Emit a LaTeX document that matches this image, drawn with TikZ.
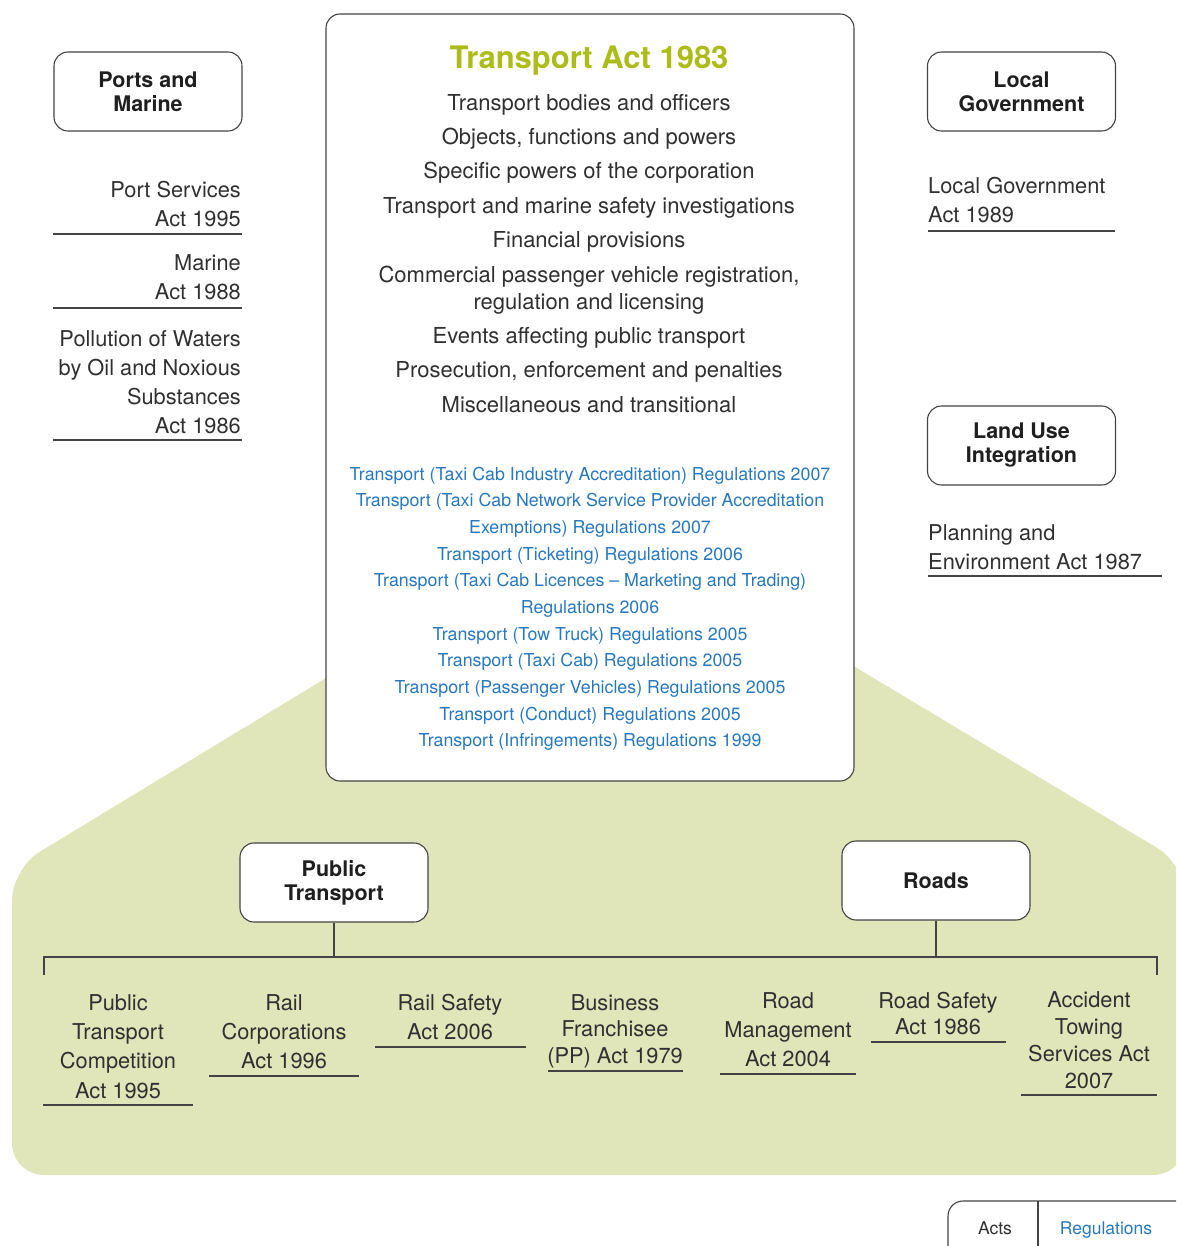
\documentclass[tikz,border=0pt]{standalone}
\usepackage{fontspec}
\setmainfont{TeX Gyre Heros}
\definecolor{gfill}{RGB}{225,229,186}
\definecolor{tgreen}{RGB}{172,188,24}
\definecolor{regblue}{RGB}{40,120,192}
\definecolor{txt}{RGB}{48,48,48}
\definecolor{edge}{RGB}{68,68,68}
\begin{document}
\begin{tikzpicture}[x=1pt,y=-1pt,
  cat/.style={draw=edge, line width=1.1pt, rounded corners=14pt, fill=white,
    minimum width=188pt, minimum height=79pt, inner sep=0pt, align=center,
    font=\fontsize{21.5}{24}\selectfont\bfseries, text=black!88},
  act/.style={font=\fontsize{21.8}{29}\selectfont, text=txt, inner sep=0pt, anchor=base},
  item/.style={font=\fontsize{22}{27}\selectfont, text=txt, inner sep=0pt, anchor=base, align=center},
  reg/.style={font=\fontsize{17.8}{27}\selectfont, text=regblue, inner sep=0pt, anchor=base, align=center},
  uline/.style={draw=edge, line width=1.2pt},
  link/.style={draw=edge, line width=1.2pt}]
\useasboundingbox (0,0) rectangle (1176,1246);
\begin{scope}
  \clip (0,0) rectangle (1176,1246);
  \fill[gfill, rounded corners=32pt] (420,621) -- (12,868.6) -- (12,1175) -- (1185,1175) -- (1185,864.6) -- (760,610) -- cycle;
  \draw[draw=edge, line width=1.1pt, rounded corners=15pt, fill=white] (948,1201) rectangle (1200,1270);
  \draw[draw=edge, line width=1.1pt] (1038,1201) -- (1038,1246);
\end{scope}
\node[font=\fontsize{17.5}{20}\selectfont, text=txt, inner sep=0pt, anchor=base] (legActs) at (995,1234) {Acts};
\node[font=\fontsize{17.5}{20}\selectfont, text=regblue, inner sep=0pt, anchor=base] (legRegs) at (1106,1234) {Regulations};

% central box
\node[draw=edge, line width=1.1pt, rounded corners=14pt, fill=white,
  minimum width=528pt, minimum height=767pt, inner sep=0pt] (main) at (590,397.5) {};
\node[font=\fontsize{31}{34}\selectfont\bfseries, text=tgreen, inner sep=0pt, anchor=base] (title) at (589,69) {Transport Act 1983};
\node[item] (i1) at (589,111) {Transport bodies and officers};
\node[item] (i2) at (589,145) {Objects, functions and powers};
\node[item] (i3) at (589,179) {Specific powers of the corporation};
\node[item] (i4) at (589,214) {Transport and marine safety investigations};
\node[item] (i5) at (589,248) {Financial provisions};
\node[item] (i6) at (589,309) {Commercial passenger vehicle registration,\\regulation and licensing};
\node[item] (i7) at (589,343) {Events affecting public transport};
\node[item] (i8) at (589,377) {Prosecution, enforcement and penalties};
\node[item] (i9) at (589,412) {Miscellaneous and transitional};

\node[reg] (r1) at (590,480) {Transport (Taxi Cab Industry Accreditation) Regulations 2007};
\node[reg] (r2) at (590,533) {Transport (Taxi Cab Network Service Provider Accreditation\\Exemptions) Regulations 2007};
\node[reg] (r3) at (590,560) {Transport (Ticketing) Regulations 2006};
\node[reg] (r4) at (590,613) {Transport (Taxi Cab Licences -- Marketing and Trading)\\Regulations 2006};
\node[reg] (r5) at (590,640) {Transport (Tow Truck) Regulations 2005};
\node[reg] (r6) at (590,666) {Transport (Taxi Cab) Regulations 2005};
\node[reg] (r7) at (590,693) {Transport (Passenger Vehicles) Regulations 2005};
\node[reg] (r8) at (590,720) {Transport (Conduct) Regulations 2005};
\node[reg] (r9) at (590,746) {Transport (Infringements) Regulations 1999};

% category boxes
\node[cat] (ports) at (148,91.5) {Ports and\\Marine};
\node[cat] (localgov) at (1021.5,91.5) {Local\\Government};
\node[cat] (landuse) at (1021.5,445.5) {Land Use\\Integration};
\node[cat] (pt) at (334,882.5) {Public\\Transport};
\node[cat] (roads) at (936,880.5) {Roads};

% left column
\node[act, anchor=base east, align=right] (a1) at (241,227) {Port Services\\Act 1995};
\draw[uline] (53,234) -- (242,234);
\node[act, anchor=base east, align=right] (a2) at (241,300) {Marine\\Act 1988};
\draw[uline] (53,308) -- (242,308);
\node[act, anchor=base east, align=right] (a3) at (241,433) {Pollution of Waters\\by Oil and Noxious\\Substances\\Act 1986};
\draw[uline] (53,440) -- (242,440);

% right column
\node[act, anchor=base west, align=left] (a4) at (928,223) {Local Government\\Act 1989};
\draw[uline] (928,231) -- (1115,231);
\node[act, anchor=base west, align=left] (a5) at (928,569) {Planning and\\Environment Act 1987};
\draw[uline] (928,576) -- (1162,576);

% bracket
\coordinate (bL) at (44,957);
\coordinate (bR) at (1157,957);
\draw[link] (44,975) -- (bL) -- (bR) -- (1157,975);
\draw[link] (pt.south) -- (pt.south |- bL);
\draw[link] (roads.south) -- (roads.south |- bL);

% bottom acts
\node[act, align=center, font=\fontsize{21.8}{29.3}\selectfont] (b1) at (118,1098) {Public\\Transport\\Competition\\Act 1995};
\draw[uline] (43,1105) -- (193,1105);
\node[act, align=center] (b2) at (284,1068) {Rail\\Corporations\\Act 1996};
\draw[uline] (209,1076) -- (359,1076);
\node[act, align=center] (b3) at (450,1039) {Rail Safety\\Act 2006};
\draw[uline] (375,1047) -- (526,1047);
\node[act, align=center, font=\fontsize{21.8}{26.5}\selectfont] (b4) at (615,1063) {Business\\Franchisee\\(PP) Act 1979};
\draw[uline] (548,1071) -- (683,1071);
\node[act, align=center] (b5) at (788,1066) {Road\\Management\\Act 2004};
\draw[uline] (720,1074) -- (856,1074);
\node[act, align=center, font=\fontsize{21.8}{26}\selectfont] (b6) at (938,1034) {Road Safety\\Act 1986};
\draw[uline] (871,1042) -- (1006,1042);
\node[act, align=center, font=\fontsize{21.8}{26.7}\selectfont] (b7) at (1089,1088) {Accident\\Towing\\Services Act\\2007};
\draw[uline] (1021,1095) -- (1157,1095);
\end{tikzpicture}
\end{document}
